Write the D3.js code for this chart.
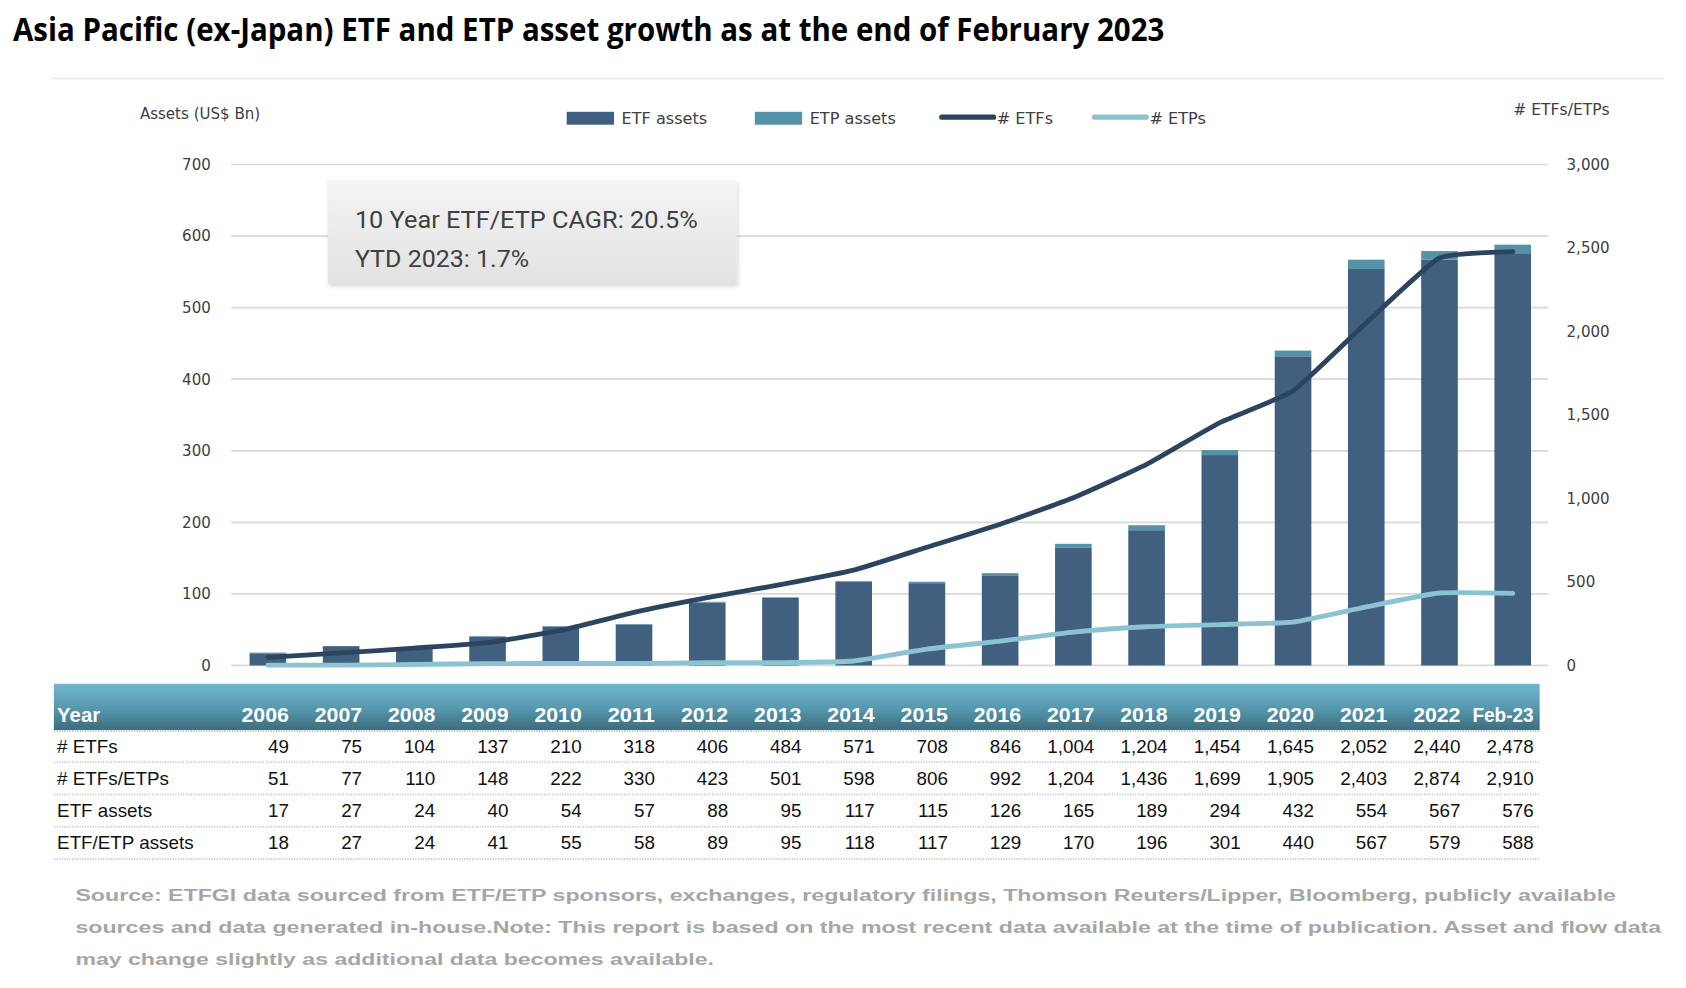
<!DOCTYPE html>
<html><head><meta charset="utf-8">
<script src="https://cdn.jsdelivr.net/npm/d3@7/dist/d3.min.js"></script>
<style>body{margin:0;background:#fff}svg{display:block}</style>
</head><body>
<script>
const categories = ["2006","2007","2008","2009","2010","2011","2012","2013","2014","2015","2016","2017","2018","2019","2020","2021","2022","Feb-23"];
const numETFs = [49,75,104,137,210,318,406,484,571,708,846,1004,1204,1454,1645,2052,2440,2478];
const numETFsETPs = [51,77,110,148,222,330,423,501,598,806,992,1204,1436,1699,1905,2403,2874,2910];
const numETPs = [2,2,6,11,12,12,17,17,27,98,146,200,232,245,260,351,434,432];
const etfAssets = [17,27,24,40,54,57,88,95,117,115,126,165,189,294,432,554,567,576];
const etfEtpAssets = [18,27,24,41,55,58,89,95,118,117,129,170,196,301,440,567,579,588];
const leftTicks = [0,100,200,300,400,500,600,700];
const rightTicks = [0,500,1000,1500,2000,2500,3000];
const titleText = "Asia Pacific (ex-Japan) ETF and ETP asset growth as at the end of February 2023";
const boxLines = ["10 Year ETF/ETP CAGR: 20.5%", "YTD 2023: 1.7%"];
const footerLines = [
  "Source: ETFGI data sourced from ETF/ETP sponsors, exchanges, regulatory filings, Thomson Reuters/Lipper, Bloomberg, publicly available",
  "sources and data generated in-house.Note: This report is based on the most recent data available at the time of publication. Asset and flow data",
  "may change slightly as additional data becomes available."
];

const C_ETF = "#41607f", C_ETP = "#5692a7", C_LINE1 = "#2b4560", C_LINE2 = "#8cc3d2";

const svg = d3.select("body").append("svg")
  .attr("width", 1686).attr("height", 988)
  .attr("viewBox", "0 0 1568 919");

const defs = svg.append("defs");
const hg = defs.append("linearGradient").attr("id","hdr").attr("x1",0).attr("y1",0).attr("x2",0).attr("y2",1);
hg.append("stop").attr("offset","0%").attr("stop-color","#70b8cf");
hg.append("stop").attr("offset","55%").attr("stop-color","#5597ad");
hg.append("stop").attr("offset","100%").attr("stop-color","#3c6b7d");
const bg = defs.append("linearGradient").attr("id","box").attr("x1",0).attr("y1",0).attr("x2",0).attr("y2",1);
bg.append("stop").attr("offset","0%").attr("stop-color","#f4f4f4");
bg.append("stop").attr("offset","100%").attr("stop-color","#e2e2e2");
const sh = defs.append("filter").attr("id","shadow").attr("x","-5%").attr("y","-5%").attr("width","115%").attr("height","125%");
sh.append("feDropShadow").attr("dx",1).attr("dy",2).attr("stdDeviation",2).attr("flood-color","#000").attr("flood-opacity",0.18);

// Title
svg.append("text").attr("x",12).attr("y",38)
  .attr("font-family","Open Sans, sans-serif").attr("font-weight",700).attr("font-size",29.5)
  .attr("fill","#000").attr("textLength",1071).attr("lengthAdjust","spacingAndGlyphs")
  .text(titleText);
svg.append("line").attr("x1",48).attr("x2",1548).attr("y1",73).attr("y2",73)
  .attr("stroke","#e8e8e8").attr("stroke-width",1.5);

// Scales
const x = d3.scaleBand().domain(categories).range([215,1441]).paddingInner(0.5).paddingOuter(0.25);
const yL = d3.scaleLinear().domain([0,700]).range([619,153]);
const yR = d3.scaleLinear().domain([0,3000]).range([619,153]);

// Grid
svg.append("g").selectAll("line").data(leftTicks).join("line")
  .attr("x1",215).attr("x2",1440).attr("y1",d=>yL(d)).attr("y2",d=>yL(d))
  .attr("stroke","#d9d9d9").attr("stroke-width",1.6);

// Axes
const axL = svg.append("g").attr("transform","translate(196,0)")
  .call(d3.axisLeft(yL).tickValues(leftTicks).tickSize(0).tickPadding(0).tickFormat(d3.format("d")));
const axR = svg.append("g").attr("transform","translate(1457,0)")
  .call(d3.axisRight(yR).tickValues(rightTicks).tickSize(0).tickPadding(0).tickFormat(d3.format(",")));
[axL, axR].forEach(a => {
  a.select(".domain").remove();
  a.selectAll("text").attr("font-family","DejaVu Sans, sans-serif").attr("font-size",14).attr("fill","#404040");
});

svg.append("text").attr("x",130).attr("y",111).attr("font-family","DejaVu Sans, sans-serif").attr("font-size",14)
  .attr("fill","#404040").text("Assets (US$ Bn)");
svg.append("text").attr("x",1497).attr("y",107).attr("text-anchor","end").attr("font-family","DejaVu Sans, sans-serif")
  .attr("font-size",14.5).attr("fill","#404040").text("# ETFs/ETPs");

// Bars
const bars = svg.append("g");
bars.selectAll("rect.etf").data(categories).join("rect").attr("class","etf")
  .attr("x",d=>x(d)).attr("width",x.bandwidth())
  .attr("y",(d,i)=>yL(etfAssets[i])).attr("height",(d,i)=>yL(0)-yL(etfAssets[i]))
  .attr("fill",C_ETF);
bars.selectAll("rect.etp").data(categories).join("rect").attr("class","etp")
  .attr("x",d=>x(d)).attr("width",x.bandwidth())
  .attr("y",(d,i)=>yL(etfEtpAssets[i])).attr("height",(d,i)=>yL(etfAssets[i])-yL(etfEtpAssets[i]))
  .attr("fill",C_ETP);

// Lines
const cx = d => x(d) + x.bandwidth()/2;
const line = arr => d3.line().x((d,i)=>cx(categories[i])).y(d=>yR(d)).curve(d3.curveCardinal.tension(0.55))(arr);
svg.append("path").attr("d",line(numETPs)).attr("fill","none").attr("stroke",C_LINE2).attr("stroke-width",4.5).attr("stroke-linecap","round").attr("stroke-linejoin","round");
svg.append("path").attr("d",line(numETFs)).attr("fill","none").attr("stroke",C_LINE1).attr("stroke-width",4.5).attr("stroke-linecap","round").attr("stroke-linejoin","round");

// Legend
const lg = svg.append("g").attr("font-family","DejaVu Sans, sans-serif").attr("font-size",15).attr("fill","#404040");
lg.append("rect").attr("x",527).attr("y",104).attr("width",44).attr("height",12).attr("fill",C_ETF);
lg.append("text").attr("x",578).attr("y",115).text("ETF assets");
lg.append("rect").attr("x",702).attr("y",104).attr("width",44).attr("height",12).attr("fill",C_ETP);
lg.append("text").attr("x",753).attr("y",115).text("ETP assets");
lg.append("line").attr("x1",876).attr("x2",924).attr("y1",109).attr("y2",109).attr("stroke",C_LINE1).attr("stroke-width",5).attr("stroke-linecap","round");
lg.append("text").attr("x",927).attr("y",115).text("# ETFs");
lg.append("line").attr("x1",1018).attr("x2",1066).attr("y1",109).attr("y2",109).attr("stroke",C_LINE2).attr("stroke-width",5).attr("stroke-linecap","round");
lg.append("text").attr("x",1069).attr("y",115).text("# ETPs");

// Text box
svg.append("rect").attr("x",305).attr("y",168).attr("width",380).attr("height",96)
  .attr("fill","url(#box)").attr("filter","url(#shadow)");
svg.append("text").attr("x",330).attr("y",212).attr("font-family","Roboto, sans-serif").attr("font-size",22.5)
  .attr("fill","#404040").attr("textLength",319).attr("lengthAdjust","spacingAndGlyphs").text(boxLines[0]);
svg.append("text").attr("x",330).attr("y",248).attr("font-family","Roboto, sans-serif").attr("font-size",22.5)
  .attr("fill","#404040").attr("textLength",162).attr("lengthAdjust","spacingAndGlyphs").text(boxLines[1]);

// Table
const tbl = svg.append("g");
tbl.append("rect").attr("x",50).attr("y",636).attr("width",1382).attr("height",43).attr("fill","url(#hdr)");
const colR = d => cx(d) + 19.5;
tbl.append("text").attr("x",53).attr("y",672).attr("font-family","Liberation Sans, Arial, sans-serif").attr("font-weight",700)
  .attr("font-size",19).attr("fill","#fff").text("Year");
tbl.selectAll("text.hd").data(categories).join("text").attr("class","hd")
  .attr("x",d=>colR(d)).attr("y",672).attr("text-anchor","end")
  .attr("font-family","Liberation Sans, Arial, sans-serif").attr("font-weight",700).attr("font-size",19)
  .attr("fill","#fff").attr("textLength",d=>d.length===4?44:57).attr("lengthAdjust","spacingAndGlyphs").text(d=>d);
const rows = [
  {label:"# ETFs", vals:numETFs},
  {label:"# ETFs/ETPs", vals:numETFsETPs},
  {label:"ETF assets", vals:etfAssets},
  {label:"ETF/ETP assets", vals:etfEtpAssets}
];
const fmt = d3.format(",");
rows.forEach((r,ri) => {
  const yb = 700 + ri*30;
  tbl.append("line").attr("x1",50).attr("x2",1432).attr("y1",709+ri*30).attr("y2",709+ri*30)
    .attr("stroke","#cfcfcf").attr("stroke-width",2).attr("stroke-dasharray","1.2,1.2");
  tbl.append("text").attr("x",53).attr("y",yb).attr("font-family","Liberation Sans, Arial, sans-serif")
    .attr("font-size",17.5).attr("fill","#111").text(r.label);
  tbl.selectAll(null).data(r.vals).join("text")
    .attr("x",(d,i)=>colR(categories[i])).attr("y",yb).attr("text-anchor","end")
    .attr("font-family","Liberation Sans, Arial, sans-serif").attr("font-size",17.5).attr("fill","#111")
    .text(d=>fmt(d));
});
tbl.append("line").attr("x1",50).attr("x2",1432).attr("y1",680).attr("y2",680)
  .attr("stroke","#9ab3bd").attr("stroke-width",1.5).attr("stroke-dasharray","1.2,1.2");

// Footer
const fl = [1433, 1475, 594];
footerLines.forEach((t,i) => {
  svg.append("text").attr("x",70).attr("y",838+i*30).attr("font-family","Liberation Sans, Arial, sans-serif")
    .attr("font-weight",700).attr("font-size",15).attr("fill","#a6a6a6")
    .attr("textLength",fl[i]).attr("lengthAdjust","spacingAndGlyphs").text(t);
});
</script>
</body></html>
